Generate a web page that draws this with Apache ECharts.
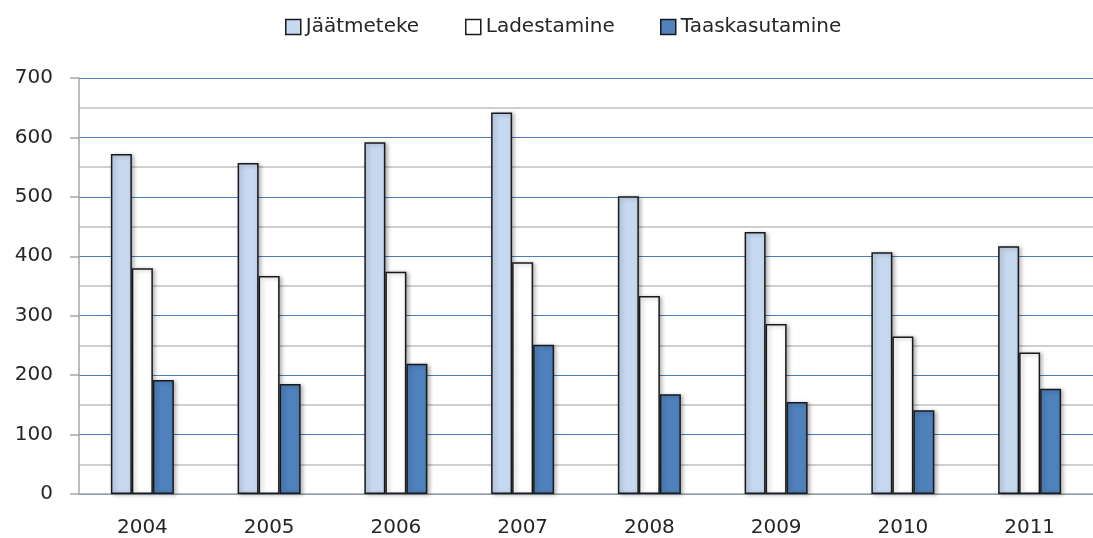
<!DOCTYPE html>
<html><head><meta charset="utf-8">
<script src="https://cdn.jsdelivr.net/npm/echarts@6/dist/echarts.min.js"></script>
<style>html,body{margin:0;padding:0;background:#fff}#c{width:1093px;height:538px}</style>
</head><body><div id="c"></div>
<script>
var years = ['2004','2005','2006','2007','2008','2009','2010','2011'];
var jaatmeteke = [572, 557, 592, 642, 501, 441, 407, 417];
var ladestamine = [380, 367, 374, 390, 333, 286, 265, 238];
var taaskasutamine = [192, 185, 219, 251, 168, 155, 141, 177];
var seriesNames = ['Jäätmeteke', 'Ladestamine', 'Taaskasutamine'];

var colors = ['#c6d9f1', '#ffffff', '#4f81bd'];
var font = 'DejaVu Sans';
function leg(name, left) {
  return {
    data: [name], left: left, top: 17, padding: 0, itemWidth: 15, itemHeight: 15,
    icon: 'rect',
    textStyle: {fontFamily: font, fontSize: 20, color: '#262626', padding: [0,0,0,0]},
    itemStyle: {borderColor: '#1a1a1a', borderWidth: 1.5}
  };
}
function bar(i, data) {
  return {
    name: seriesNames[i], type: 'bar', data: data, barWidth: 21,
    barGap: '0%', animation: false,
    itemStyle: {color: colors[i], borderColor: '#1a1a1a', borderWidth: 1.5,
      shadowColor: 'rgba(0,0,0,0.3)', shadowBlur: 4, shadowOffsetX: 2, shadowOffsetY: 1}
  };
}
var chart = echarts.init(document.getElementById('c'));
chart.setOption({
  animation: false,
  legend: [leg(seriesNames[0], 285), leg(seriesNames[1], 465), leg(seriesNames[2], 660)],
  grid: {left: 79, top: 78, width: 1020, height: 416},
  xAxis: {
    type: 'category', data: years,
    axisLine: {lineStyle: {color: '#a6a6a6', width: 1.5}},
    axisTick: {show: false},
    axisLabel: {fontFamily: font, fontSize: 20, color: '#262626', margin: 24}
  },
  yAxis: {
    type: 'value', min: 0, max: 700, interval: 100,
    axisLine: {show: true, lineStyle: {color: '#a6a6a6', width: 1.5}},
    axisTick: {show: true, length: 9, lineStyle: {color: '#a6a6a6', width: 1.5}},
    axisLabel: {fontFamily: font, fontSize: 20, color: '#262626', margin: 26},
    splitLine: {lineStyle: {color: '#4a7ebb', width: 1.2}},
    minorTick: {show: false, splitNumber: 2},
    minorSplitLine: {show: true, lineStyle: {color: '#c0c0c0', width: 1.5}}
  },
  series: [bar(0, jaatmeteke), bar(1, ladestamine), bar(2, taaskasutamine)]
});
</script></body></html>
